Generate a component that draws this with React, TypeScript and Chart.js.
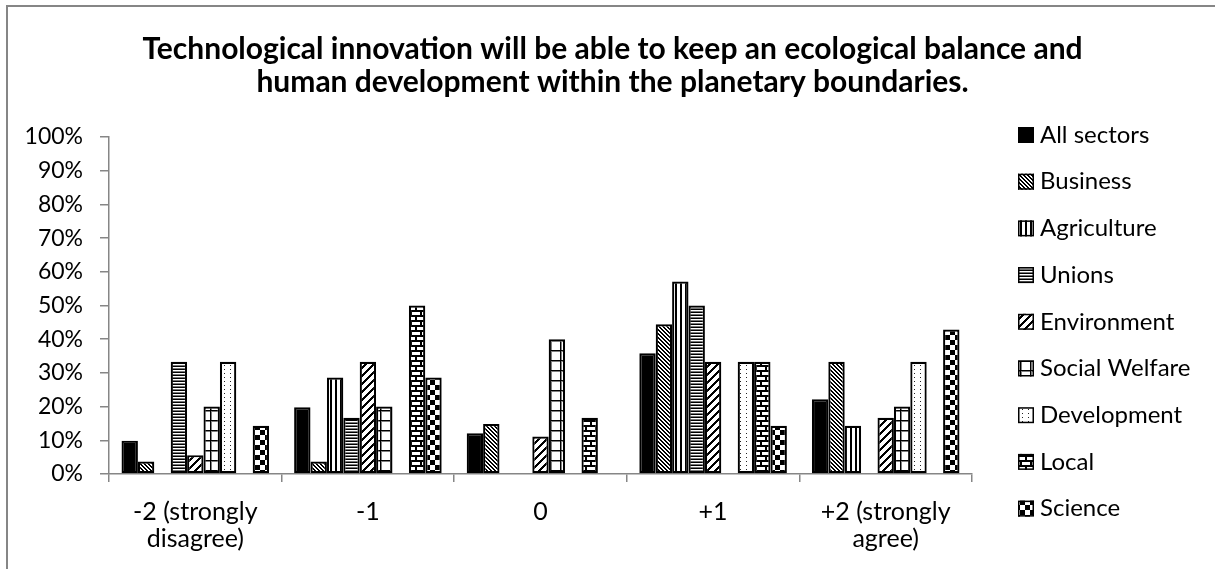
import React, { useEffect, useRef } from "react";
import { Chart, registerables } from "chart.js";

Chart.register(...registerables);

// ---------------- data ----------------
const categories: (string | string[])[] = [
  ["-2 (strongly", "disagree)"],
  "-1",
  "0",
  "+1",
  ["+2 (strongly", "agree)"],
];

const seriesNames = [
  "All sectors",
  "Business",
  "Agriculture",
  "Unions",
  "Environment",
  "Social Welfare",
  "Development",
  "Local",
  "Science",
];

const allSectors = [9.9, 19.8, 12.1, 35.8, 22.2];
const business = [3.7, 3.7, 14.8, 44.4, 33.3];
const agriculture = [0, 28.6, 0, 57.1, 14.3];
const unions = [33.3, 16.7, 0, 50.0, 0];
const environment = [5.6, 33.3, 11.1, 33.3, 16.7];
const socialWelfare = [20.0, 20.0, 40.0, 0, 20.0];
const development = [33.3, 0, 0, 33.3, 33.3];
const local = [0, 50.0, 16.7, 33.3, 0];
const science = [14.3, 28.6, 0, 14.3, 42.9];

const seriesValues = [
  allSectors,
  business,
  agriculture,
  unions,
  environment,
  socialWelfare,
  development,
  local,
  science,
];

const yMin = 0;
const yMax = 100;
const yStep = 10;

const titleLines = [
  "Technological innovation will be able to keep an ecological balance and",
  "human development within the planetary boundaries.",
];

type PatternKind =
  | "solid"
  | "downDiag"
  | "vert"
  | "narrowHoriz"
  | "upDiag"
  | "grid"
  | "dots"
  | "brick"
  | "checker";

const seriesPatterns: PatternKind[] = [
  "solid",
  "downDiag",
  "vert",
  "narrowHoriz",
  "upDiag",
  "grid",
  "dots",
  "brick",
  "checker",
];

// ---------------- styling ----------------
const FONT = "Lato, 'Open Sans', 'DejaVu Sans', sans-serif";
const AXIS_COLOR = "#868686";
const TEXT_COLOR = "#000000";

function makeTile(kind: PatternKind): HTMLCanvasElement | null {
  if (kind === "solid") return null;
  const sizes: Record<string, [number, number]> = {
    downDiag: [4, 4],
    vert: [5, 5],
    narrowHoriz: [3, 3],
    upDiag: [8, 8],
    grid: [10, 10],
    dots: [6, 4],
    brick: [10, 10],
    checker: [10, 10],
  };
  const [w, h] = sizes[kind];
  const c = document.createElement("canvas");
  c.width = w;
  c.height = h;
  const g = c.getContext("2d")!;
  g.fillStyle = "#ffffff";
  g.fillRect(0, 0, w, h);
  const px = (x: number, y: number, col = "#000000") => {
    g.fillStyle = col;
    g.fillRect(x, y, 1, 1);
  };
  const mod = (a: number, m: number) => ((a % m) + m) % m;
  for (let y = 0; y < h; y++) {
    for (let x = 0; x < w; x++) {
      switch (kind) {
        case "downDiag":
          if (mod(x - y, 4) < 2) px(x, y);
          break;
        case "vert":
          if (x < 2) px(x, y);
          break;
        case "narrowHoriz":
          if (y === 0) px(x, y);
          else if (y === 2) px(x, y, "#777777");
          break;
        case "upDiag":
          if (mod(x + y, 8) < 3) px(x, y);
          break;
        case "grid":
          if (x === 0 || y === 0) px(x, y);
          else if (x === 1 || y === 1) px(x, y, "#808080");
          break;
        case "dots":
          if (x === 2 && y === 1) px(x, y, "#222222");
          break;
        case "brick": {
          if (y === 0 || y === 1 || y === 5 || y === 6) px(x, y);
          else if (y < 5 && (x === 0 || x === 1)) px(x, y);
          else if (y > 6 && (x === 5 || x === 6)) px(x, y);
          break;
        }
        case "checker":
          if ((x < 5) === (y < 5)) px(x, y);
          break;
      }
    }
  }
  return c;
}

function makeFill(ctx: CanvasRenderingContext2D, kind: PatternKind): string | CanvasPattern {
  const tile = makeTile(kind);
  if (!tile) return "#000000";
  return ctx.createPattern(tile, "repeat") || "#000000";
}

const sideLegend = {
  id: "sideLegend",
  afterDraw(chart: any) {
    const { ctx, chartArea } = chart;
    const boxX = chartArea.right + 46;
    const step = 46.7;
    const firstY = chartArea.top - 2;
    ctx.save();
    chart.data.datasets.forEach((ds: any, i: number) => {
      const cy = firstY + i * step;
      ctx.fillStyle = ds.backgroundColor;
      ctx.fillRect(boxX, cy - 8, 16, 16);
      ctx.strokeStyle = "#000";
      ctx.lineWidth = 1.5;
      ctx.strokeRect(boxX + 0.75, cy - 7.25, 14.5, 14.5);
      ctx.fillStyle = TEXT_COLOR;
      ctx.font = `24px ${FONT}`;
      ctx.textBaseline = "middle";
      ctx.textAlign = "left";
      ctx.fillText(ds.label, boxX + 22, cy);
    });
    ctx.restore();
  },
};

export default function App() {
  const canvasRef = useRef<HTMLCanvasElement | null>(null);

  useEffect(() => {
    const canvas = canvasRef.current;
    if (!canvas) return;
    const ctx = canvas.getContext("2d")!;

    const datasets = seriesNames.map((name, i) => ({
      label: name,
      data: seriesValues[i],
      backgroundColor: makeFill(ctx, seriesPatterns[i]),
      borderColor: "#000000",
      borderWidth: 2.2,
      borderSkipped: false as const,
      categoryPercentage: 0.855,
      barPercentage: 1.0,
    }));

    const chart = new Chart(canvas, {
      type: "bar",
      data: { labels: categories, datasets },
      plugins: [sideLegend],
      options: {
        animation: false,
        responsive: false,
        devicePixelRatio: 1,
        layout: { padding: { left: 10, right: 0, top: 0, bottom: 0 } },
        plugins: {
          legend: { display: false },
          tooltip: { enabled: false },
          title: {
            display: true,
            text: titleLines,
            color: TEXT_COLOR,
            font: { family: FONT, size: 30, weight: "bold", lineHeight: 1.1 },
            padding: { top: 33, bottom: 38 },
          },
        },
        scales: {
          x: {
            type: "category",
            offset: true,
            grid: {
              display: true,
              offset: true,
              drawOnChartArea: false,
              drawTicks: true,
              tickLength: 8,
              color: AXIS_COLOR,
              lineWidth: 1.5,
            },
            border: { display: true, color: AXIS_COLOR, width: 1.5 },
            ticks: {
              color: TEXT_COLOR,
              font: { family: FONT, size: 25, lineHeight: 1.08 },
              padding: 16,
              maxRotation: 0,
              autoSkip: false,
            },
            afterFit: (s: any) => {
              s.height = 95;
            },
          },
          y: {
            min: yMin,
            max: yMax,
            ticks: {
              stepSize: yStep,
              color: TEXT_COLOR,
              font: { family: FONT, size: 23 },
              padding: 17,
              callback: (v: any) => `${v}%`,
            },
            grid: {
              display: true,
              drawOnChartArea: false,
              drawTicks: true,
              tickLength: 9,
              color: AXIS_COLOR,
              lineWidth: 1.5,
            },
            border: { display: true, color: AXIS_COLOR, width: 1.5 },
            afterFit: (s: any) => {
              s.width = 99;
            },
          },
          legendSpace: {
            type: "linear",
            position: "right",
            display: true,
            grid: { display: false },
            border: { display: false },
            ticks: { display: false },
            afterFit: (s: any) => {
              s.width = 243;
            },
          },
        },
      } as any,
    });

    return () => {
      chart.destroy();
    };
  }, []);

  return (
    <div
      style={{
        position: "fixed",
        left: 0,
        top: 0,
        width: 1215,
        height: 569,
        overflow: "hidden",
        background: "#ffffff",
      }}
    >
      <div
        style={{
          position: "absolute",
          left: 6,
          top: 5,
          width: 1400,
          height: 800,
          borderLeft: `2px solid ${AXIS_COLOR}`,
          borderTop: `2px solid ${AXIS_COLOR}`,
        }}
      />
      <canvas
        ref={canvasRef}
        width={1215}
        height={569}
        style={{ position: "absolute", left: 0, top: 0, width: 1215, height: 569 }}
      />
    </div>
  );
}
